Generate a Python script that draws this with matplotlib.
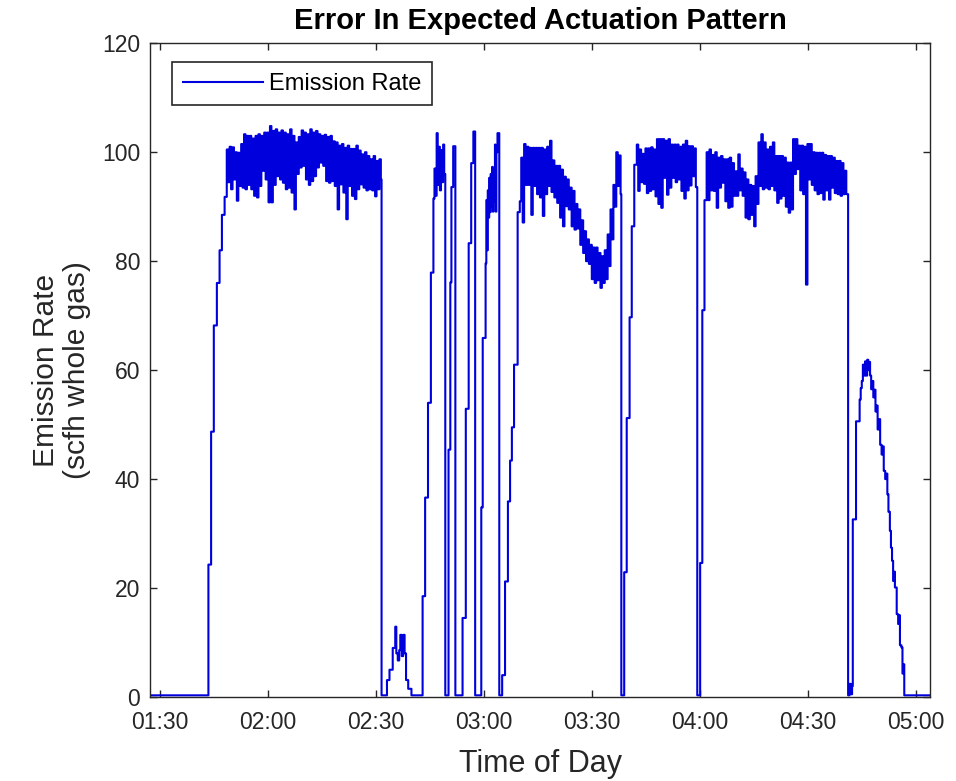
import numpy as np
import matplotlib
matplotlib.use("Agg")
import matplotlib.pyplot as plt
import matplotlib.dates as mdates
from datetime import datetime

plt.rcParams['font.family'] = ['Liberation Sans', 'DejaVu Sans']
plt.rcParams['path.simplify'] = False

# Time is minutes after 01:30; rate is scfh whole gas.
START = datetime(2000, 1, 1, 1, 30)
DENSE_DT = 0.4  # minutes between logger samples in the dense stretches

# off period, then first ramp up
rise_a_t = [-3.0, 13.4, 14.15, 14.9, 15.75, 16.5, 17.15, 17.9]
rise_a_v = [0.3, 24.3, 48.7, 68.2, 76.0, 82.0, 88.5, 91.8]

# first long plateau (01:48 - 02:31)
band_a_t0 = 18.5
band_a = [100.5, 94.5, 101.0, 93.2, 100.9, 95.0, 100.0, 91.1, 99.9, 93.8,
          101.5, 93.5, 103.3, 93.2, 103.0, 94.0, 103.0, 93.2, 102.5, 92.0,
          103.0, 91.7, 103.3, 93.8, 103.0, 96.6, 103.6, 95.0, 103.6, 90.8,
          104.8, 90.8, 103.9, 94.0, 104.2, 95.6, 103.6, 95.0, 104.0, 94.4,
          103.6, 93.2, 103.3, 93.5, 104.2, 92.6, 103.0, 89.5, 101.8, 96.0,
          102.8, 97.2, 104.0, 97.5, 103.6, 95.0, 103.3, 94.0, 104.2, 94.7,
          103.6, 95.6, 103.9, 97.2, 103.3, 98.1, 103.0, 97.5, 103.2, 94.7,
          102.8, 94.4, 103.0, 94.7, 102.0, 93.8, 101.8, 89.5, 101.2, 94.1,
          101.5, 92.6, 100.8, 87.7, 101.2, 93.8, 100.6, 92.0, 100.6, 91.4,
          101.2, 93.2, 100.3, 94.1, 99.6, 93.5, 100.0, 93.0, 99.3, 93.2,
          98.7, 93.0, 99.3, 91.9, 98.4, 93.2, 98.7, 95.0]

# shut-off, small bump and the short actuation pulses (02:31 - 03:03)
pulses_t = [61.5, 63.0, 63.7, 64.6, 65.3, 65.6, 66.0, 66.4, 66.7, 67.1, 67.5, 67.9, 68.3, 68.9, 69.8,
            72.9, 73.6, 74.4, 75.2, 75.9, 76.2, 76.5, 76.8, 77.1, 77.4, 77.7, 78.0, 78.3, 78.6, 78.9, 79.2,
            80.1, 80.6, 80.9, 81.4, 82.0, 84.0, 84.9, 85.7, 86.4, 87.0, 87.5,
            89.2, 89.6, 90.4, 90.6, 90.8, 91.0, 91.2, 91.4, 91.6, 91.8, 92.0, 92.2, 92.4, 92.6, 92.8,
            93.0, 93.2, 93.4, 93.7, 94.2,
            95.0, 95.8, 96.6, 97.2, 97.7, 98.3, 99.3, 99.9]
pulses_v = [0.3, 3.1, 5.0, 9.0, 12.9, 8.0, 6.7, 8.6, 11.4, 7.5, 11.4, 8.0, 3.1, 1.5, 0.3,
            18.5, 36.6, 54.0, 77.9, 91.5, 97.0, 92.0, 103.5, 94.0, 101.0, 93.0, 100.4, 94.5, 101.4, 96.0, 0.3,
            45.4, 76.1, 93.6, 101.1, 0.3, 14.5, 52.9, 83.3, 98.0, 103.8, 0.3,
            34.8, 65.9, 79.6, 91.2, 82.0, 93.0, 88.0, 95.3, 89.0, 96.0, 90.0, 97.3, 89.1, 96.0, 91.0,
            101.4, 89.1, 100.0, 103.5, 0.3,
            4.0, 21.2, 35.9, 43.4, 49.5, 61.0, 89.0, 91.0]

# plateau with the sag around 03:30
band_c_t0 = 100.3
band_c = [99.0, 87.1, 101.5, 94.0, 101.0, 94.0, 100.8, 88.5, 100.8, 93.8,
          100.8, 92.3, 100.8, 91.7, 100.8, 88.3, 100.5, 92.3, 101.0, 93.8,
          102.1, 92.7, 98.5, 91.7, 97.5, 90.7, 97.5, 88.0, 96.8, 86.4,
          95.5, 90.1, 95.0, 89.5, 93.5, 86.4, 92.9, 85.8, 90.5, 86.0,
          89.5, 83.0, 87.5, 81.5, 85.5, 80.0, 84.0, 79.5, 83.0, 76.7,
          82.5, 76.0, 82.5, 76.5, 81.5, 75.1, 80.9, 76.0, 82.0, 76.7,
          84.9, 79.1, 89.5, 84.0, 94.0, 90.0, 100.0, 93.8, 99.4, 92.3]

rise_d_t = [128.1, 128.9, 129.6, 130.4, 131.0, 131.7]
rise_d_v = [0.3, 22.9, 51.2, 69.7, 86.4, 97.7]

# plateau 03:42 - 04:00
band_d_t0 = 132.4
band_d = [101.4, 92.9, 100.5, 94.5, 99.7, 94.2, 100.7, 92.5, 100.7, 92.9,
          100.9, 93.2, 100.5, 91.9, 102.4, 90.5, 102.4, 89.8, 102.4, 95.3,
          102.1, 92.2, 102.4, 93.5, 101.4, 95.3, 101.4, 94.5, 101.4, 95.0,
          101.0, 92.9, 101.4, 91.5, 102.1, 93.0, 101.1, 93.9, 101.1, 95.6,
          100.7, 93.6]

rise_e_t = [149.2, 150.0, 150.6, 151.2]
rise_e_v = [0.3, 24.6, 71.0, 91.2]

# plateau 04:02 - 04:43
band_e_t0 = 151.8
band_e = [100.0, 91.2, 100.5, 93.0, 99.5, 92.9, 100.0, 89.8, 99.0, 93.5,
          99.3, 94.4, 98.7, 91.0, 98.7, 89.8, 99.0, 90.0, 98.0, 92.0,
          96.5, 92.0, 99.6, 93.0, 97.0, 92.0, 96.3, 88.0, 95.0, 87.7,
          94.0, 88.5, 93.8, 86.4, 95.6, 90.5, 101.8, 93.8, 103.3, 93.2,
          101.8, 93.5, 100.5, 93.2, 101.0, 93.8, 101.8, 93.0, 99.3, 90.7,
          99.3, 91.5, 99.3, 92.0, 99.0, 90.0, 98.1, 88.9, 98.1, 89.5,
          102.4, 96.0, 102.4, 96.9, 101.2, 93.0, 101.2, 92.3, 101.0, 75.7,
          101.5, 95.0, 101.5, 94.0, 100.0, 93.0, 99.9, 92.3, 99.9, 92.5,
          99.9, 91.3, 99.5, 93.0, 99.3, 91.3, 99.3, 93.5, 99.0, 92.5,
          98.4, 92.3, 98.4, 92.0, 98.0, 92.3, 96.6, 92.3]

# shut-off and the final partial actuation
tail_t = [191.1, 191.5, 191.9, 192.2, 192.4, 193.3, 194.3, 194.6, 194.9, 195.2,
          195.5, 195.8, 196.1, 196.4, 196.7, 196.9, 197.2, 197.5, 197.8, 198.1,
          198.4, 198.7, 199.0, 199.3, 199.6, 200.0, 200.4, 200.7, 201.0, 201.4,
          201.7, 202.0, 202.3, 202.7, 203.0, 203.3, 203.6, 203.9, 204.1, 204.6,
          205.0, 205.3, 205.5, 205.9, 206.2, 206.5, 206.7, 214.5]
tail_v = [0.3, 2.4, 0.5, 2.0, 32.6, 50.6, 54.6, 56.7, 58.0, 61.0,
          59.0, 61.6, 59.0, 61.9, 60.0, 61.5, 59.0, 56.5, 58.0, 55.0,
          56.4, 52.4, 53.5, 49.1, 51.0, 46.3, 44.5, 46.0, 41.5, 40.0,
          41.0, 37.2, 34.0, 30.5, 27.4, 25.0, 21.3, 23.0, 20.1, 15.2,
          13.4, 15.0, 9.5, 9.1, 4.3, 6.0, 0.3, 0.3]


def dense(t0, vals):
    return list(t0 + DENSE_DT * np.arange(len(vals))), list(vals)


pieces = [
    (rise_a_t, rise_a_v),
    dense(band_a_t0, band_a),
    (pulses_t, pulses_v),
    dense(band_c_t0, band_c),
    (rise_d_t, rise_d_v),
    dense(band_d_t0, band_d),
    (rise_e_t, rise_e_v),
    dense(band_e_t0, band_e),
    (tail_t, tail_v),
]
minutes = np.concatenate([np.asarray(p[0], float) for p in pieces])
rate = np.concatenate([np.asarray(p[1], float) for p in pieces])

t0_num = mdates.date2num(START)
x = t0_num + minutes / 1440.0

fig = plt.figure(figsize=(9.56, 7.81), dpi=100)
ax = fig.add_axes([0.157, 0.1076, 0.816, 0.837])

line, = ax.plot(x, rate, drawstyle='steps-post', color='#0000DD', lw=1.5,
                label='Emission Rate')
line.set_snap(False)

ax.set_xlim(t0_num - 2.8 / 1440, t0_num + 213.9 / 1440)
ax.set_ylim(0, 120)
ax.set_yticks(np.arange(0, 121, 20))
ax.xaxis.set_major_locator(mdates.MinuteLocator(byminute=[0, 30]))
ax.xaxis.set_major_formatter(mdates.DateFormatter('%H:%M'))

dark = '#262626'
for s in ax.spines.values():
    s.set_color(dark)
    s.set_linewidth(1.0)
ax.tick_params(direction='in', top=True, right=True, length=5,
               width=1.0, color=dark, labelsize=16.5, labelcolor=dark)
ax.tick_params(axis='x', pad=10)
ax.tick_params(axis='y', pad=7)

ax.set_title('Error In Expected Actuation Pattern', fontsize=21,
             fontweight='bold', color='black', pad=10)
ax.set_xlabel('Time of Day', fontsize=22, color=dark, labelpad=11)
ax.set_ylabel('Emission Rate\n(scfh whole gas)', fontsize=21.5, color=dark,
              labelpad=8, linespacing=1.15)

leg = ax.legend(loc='upper left', bbox_to_anchor=(0.028, 0.971),
                borderaxespad=0, fontsize=17, handlelength=3.4,
                handletextpad=0.25, borderpad=0.45, fancybox=False,
                framealpha=1)
leg.get_frame().set_edgecolor(dark)
leg.get_frame().set_linewidth(1.2)

fig.savefig('out.png', dpi=100)
